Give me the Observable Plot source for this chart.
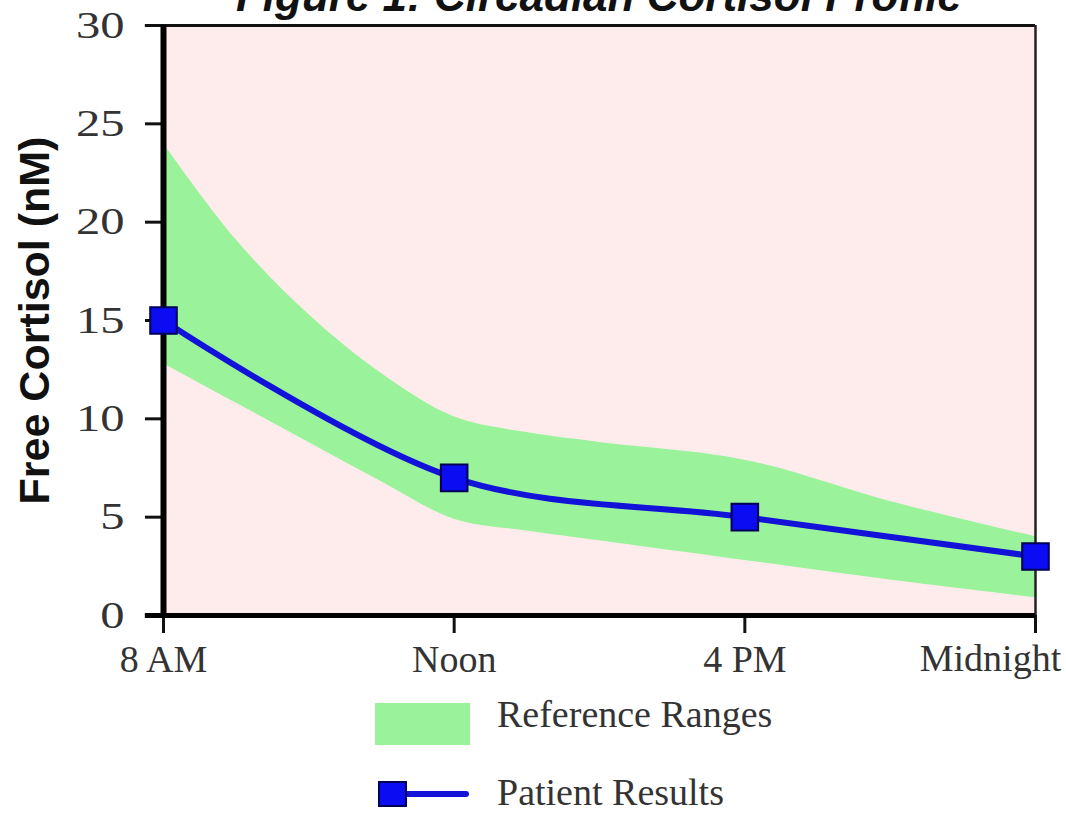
<!DOCTYPE html>
<html>
<head>
<meta charset="utf-8">
<script src="https://cdn.jsdelivr.net/npm/d3@7"></script>
<script src="https://cdn.jsdelivr.net/npm/@observablehq/plot@0.6"></script>
<style>
  html, body { margin: 0; padding: 0; background: #ffffff; }
  #wrap { position: relative; width: 1066px; height: 813px; overflow: hidden; }
  #title { position: absolute; left: 0; width: 1198px; top: -26px; text-align: center;
    font: italic bold 44px "Liberation Sans", Arial, sans-serif; line-height: 44px; color: #111; white-space: nowrap; }
  #chart { position: absolute; left: 0; top: 0; }
  .legtext { position: absolute; font: 38px "Liberation Serif", "Times New Roman", serif; line-height: 30px; color: #333; white-space: nowrap; }
  #legRect { position: absolute; left: 375px; top: 703px; width: 95px; height: 42px; background: #9af29a; }
  #legLine { position: absolute; left: 370px; top: 777px; }
</style>
</head>
<body>
<div id="wrap">
  <div id="chart"></div>
  <div id="title">Figure 1: Circadian Cortisol Profile</div>
  <div id="legRect"></div>
  <div class="legtext" style="left:497px; top:699px;">Reference Ranges</div>
  <svg id="legLine" width="110" height="34"></svg>
  <div class="legtext" style="left:497px; top:777px;">Patient Results</div>
</div>
<script>
// Time points (positions 0..3 along x)
const timeLabels = ["8 AM", "Noon", "4 PM", "Midnight"];
const timeIndex = [0, 1, 2, 3];
// Patient free cortisol (nM)
const patientValues = [15, 7, 5, 3];
// Reference range band (position, upper, lower)
const bandPos   = [0,    0.25, 0.5,  0.75, 1,    1.25, 1.5, 2,   2.5, 3];
const bandUpper = [24.0, 19.1, 15.3, 12.3, 10.1, 9.3,  8.8, 7.9, 5.8, 4.0];
const bandLower = [12.8, 10.8, 8.8,  6.8,  4.9,  4.3,  3.8, 2.8, 1.8, 0.9];
const yTicks = [0, 5, 10, 15, 20, 25, 30];

const patient = timeIndex.map((t, i) => ({t, v: patientValues[i]}));
const band = bandPos.map((t, i) => ({t, hi: bandUpper[i], lo: bandLower[i]}));

const pink = "#fdeceb";
const green = "#9af29a";
const lineBlue = "#1212d8";
const markFill = "#0c0cf2";
const markStroke = "#000055";
const serif = "Liberation Serif, Times New Roman, serif";

const plot = Plot.plot({
  width: 1066,
  height: 690,
  marginLeft: 163,
  marginRight: 31,
  marginTop: 25,
  marginBottom: 75,
  style: {background: "transparent", overflow: "visible"},
  x: {domain: [0, 3]},
  y: {domain: [0, 30]},
  marks: [
    Plot.frame({fill: pink, stroke: null}),
    Plot.areaY(band, {x: "t", y1: "lo", y2: "hi", fill: green, curve: "catmull-rom"}),
    // borders / axes
    Plot.ruleY([30], {x1: -0.0625, x2: 3, stroke: "#111", strokeWidth: 3}),
    Plot.ruleX([3], {y1: 0, y2: 30, stroke: "#222", strokeWidth: 2.5}),
    Plot.axisY({ticks: yTicks, tickSize: 18, tickPadding: 21, strokeWidth: 3, stroke: "#111",
      fontSize: 38, fontFamily: serif, fill: "#333", label: null}),
    Plot.axisX({ticks: [0, 1, 2, 3], tickSize: 18, tickPadding: 12, strokeWidth: 3, stroke: "#111",
      tickFormat: i => (i < 3 ? timeLabels[i] : ""),
      fontSize: 38, fontFamily: serif, fill: "#333", label: null}),
    Plot.text([timeLabels[3]], {x: 3, y: 0, text: d => d, dy: 43, dx: -45, fontSize: 38,
      fontFamily: serif, fill: "#333"}),
    Plot.ruleX([0], {y1: 0, y2: 30, stroke: "#000", strokeWidth: 6}),
    Plot.ruleY([0], {x1: -0.0625, x2: 3, stroke: "#000", strokeWidth: 5}),
    Plot.text(["Free Cortisol (nM)"], {frameAnchor: "left", textAnchor: "middle", text: d => d, rotate: -90, dx: -128,
      fontSize: 43, fontWeight: "bold", fontFamily: "Liberation Sans, Arial, sans-serif", fill: "#111"}),
    // patient results
    Plot.line(patient, {x: "t", y: "v", stroke: lineBlue, strokeWidth: 6, curve: "catmull-rom"}),
    Plot.dot(patient, {x: "t", y: "v", symbol: "square", r: 15, fill: markFill, stroke: markStroke, strokeWidth: 2})
  ]
});
document.getElementById("chart").appendChild(plot);

// y tick labels in the figure are drawn wider than plain Times digits
d3.select(plot).selectAll('g[aria-label="y-axis tick label"] text').each(function() {
  const t = this.getAttribute("transform") || "";
  this.setAttribute("transform", t + " scale(1.28,1)");
});

// legend sample for the patient series
const lg = d3.select("#legLine");
lg.append("line").attr("x1", 25).attr("x2", 96).attr("y1", 17).attr("y2", 17)
  .attr("stroke", lineBlue).attr("stroke-width", 6).attr("stroke-linecap", "round");
lg.append("rect").attr("x", 9).attr("y", 5).attr("width", 27).attr("height", 24)
  .attr("fill", markFill).attr("stroke", markStroke).attr("stroke-width", 2);
</script>
</body>
</html>
